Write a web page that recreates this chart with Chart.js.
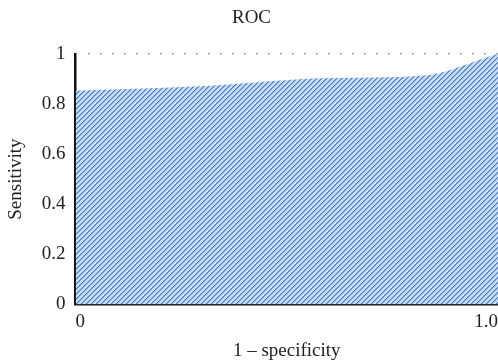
<!DOCTYPE html>
<html>
<head>
<meta charset="utf-8">
<script src="https://cdn.jsdelivr.net/npm/chart.js@4"></script>
<style>
  html, body { margin: 0; padding: 0; background: #fff; }
  #wrap { width: 498px; height: 362px; }
</style>
</head>
<body>
<div id="wrap"><canvas id="roc"></canvas></div>
<script>
// ROC curve
var fpr = [0, 0.32, 0.6, 0.82, 1.0]
var tpr = [0.853, 0.873, 0.903, 0.912, 1.0]
var xTickLabels = {0: '0', 1: '1.0'}
var yTicks = [0, 0.2, 0.4, 0.6, 0.8, 1]

// hatch fill: light blue ground with darker diagonal stripes
function hatch() {
  var n = 5
  var c = document.createElement('canvas')
  c.width = n; c.height = n
  var g = c.getContext('2d')
  g.fillStyle = '#c9daf2'
  g.fillRect(0, 0, n, n)
  for (var i = 0; i < n; i++) {
    g.fillStyle = '#3a78c6'
    g.fillRect(i, n - 1 - i, 1, 1)
    g.fillStyle = '#8fb2e0'
    g.fillRect((i + 1) % n, n - 1 - i, 1, 1)
  }
  return g.createPattern(c, 'repeat')
}

var points = fpr.map(function (x, i) { return {x: x, y: tpr[i]} })
var serif = "'Liberation Serif', 'DejaVu Serif', serif"

new Chart(document.getElementById('roc'), {
  type: 'line',
  data: {
    datasets: [{
      data: points,
      backgroundColor: hatch(),
      borderWidth: 0,
      borderColor: 'rgba(0,0,0,0)',
      pointRadius: 0,
      fill: 'origin',
      tension: 0.3,
      cubicInterpolationMode: 'monotone'
    }]
  },
  options: {
    responsive: true,
    maintainAspectRatio: false,
    animation: false,
    layout: { padding: { top: 0, right: 0, left: 5, bottom: 0 } },
    plugins: {
      legend: { display: false },
      tooltip: { enabled: false },
      title: {
        display: true, text: 'ROC', color: '#222',
        font: { family: serif, size: 19, weight: 'normal' },
        padding: { top: 7, bottom: 24 }
      }
    },
    scales: {
      x: {
        type: 'linear', min: 0, max: 1,
        afterBuildTicks: function (ax) { ax.ticks = [{value: 0}, {value: 1}] },
        afterFit: function (ax) { ax.paddingRight = 0; ax.paddingLeft = 0 },
        ticks: {
          align: 'inner', color: '#222', padding: 6,
          font: { family: serif, size: 19 },
          callback: function (v) { return xTickLabels[v] }
        },
        grid: { display: false, drawTicks: false },
        border: { color: '#111', width: 2.5 },
        title: {
          display: true, text: '1 \u2013 specificity', color: '#222',
          font: { family: serif, size: 19 }, padding: { top: 0, bottom: 0 }
        }
      },
      y: {
        min: 0, max: 1,
        afterBuildTicks: function (ax) { ax.ticks = yTicks.map(function (v) { return {value: v} }) },
        ticks: {
          color: '#222', padding: 10,
          font: { family: serif, size: 19 },
          callback: function (v) { return String(v) }
        },
        grid: { display: false, drawTicks: false },
        border: { color: '#111', width: 2.5 },
        title: {
          display: true, text: 'Sensitivity', color: '#222',
          font: { family: serif, size: 19 }, padding: { top: 0, bottom: 4 }
        }
      }
    }
  },
  plugins: [{
    // dotted top gridline
    id: 'dots',
    beforeDatasetsDraw: function (chart) {
      var y = chart.scales.y.getPixelForValue(1)
      var a = chart.chartArea
      var c = chart.ctx
      c.save()
      c.fillStyle = '#888'
      for (var x = a.left + 12; x < a.right; x += 12) c.fillRect(Math.round(x), Math.round(y) - 1, 1.5, 1.5)
      c.restore()
    }
  }]
})
</script>
</body>
</html>
